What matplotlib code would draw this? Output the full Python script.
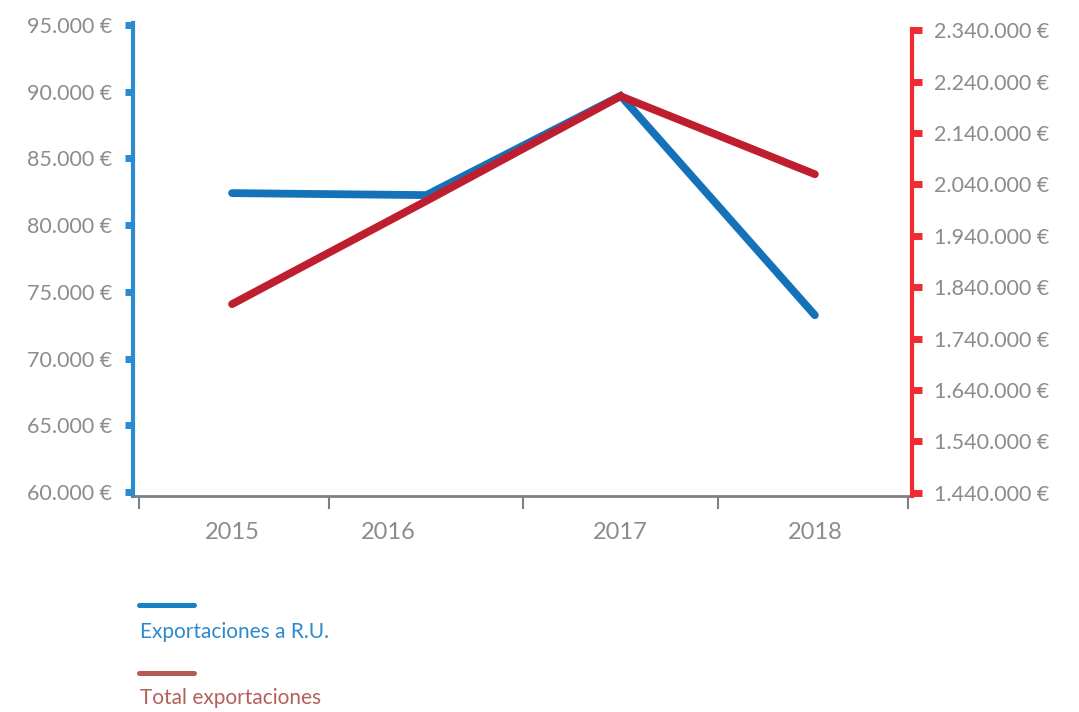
import matplotlib.pyplot as plt
from matplotlib.lines import Line2D
from matplotlib.ticker import FuncFormatter, FixedLocator
import matplotlib.transforms as mtransforms

years = ["2015", "2016", "2017", "2018"]
exports_uk = [82400, 82250, 89700, 73250]
exports_total = [1807000, 2008000, 2212000, 2060000]
left_ticks = [60000, 65000, 70000, 75000, 80000, 85000, 90000, 95000]
right_ticks = [1440000, 1540000, 1640000, 1740000, 1840000,
               1940000, 2040000, 2140000, 2240000, 2340000]

plt.rcParams["font.family"] = ["Lato", "DejaVu Sans"]

BLUE_LINE = "#1472b9"
BLUE_AXIS = "#2a8bd0"
RED_LINE = "#be1e2d"
RED_AXIS = "#ee2a33"
GRAY = "#7b8086"
LABEL = "#8c8c8c"


def euro(v, pos=None):
    return f"{int(v):,}".replace(",", ".") + " €"


fig = plt.figure(figsize=(10.79, 7.12), dpi=100)
ax = fig.add_axes([133 / 1079, 1 - 496 / 712, 779 / 1079, 473 / 712])
ax2 = ax.twinx()

x = list(range(len(years)))
ax.plot(x, exports_uk, color=BLUE_LINE, lw=5.6, solid_capstyle="round",
        solid_joinstyle="miter", zorder=3)
ax2.plot(x, exports_total, color=RED_LINE, lw=5.6, solid_capstyle="round",
         solid_joinstyle="miter", zorder=3)

ax.set_xlim(-0.51, 3.5)
ax.set_ylim(59700, 95150)
ax2.set_ylim(1433200, 2354600)

for a in (ax, ax2):
    a.spines["top"].set_visible(False)
    a.patch.set_visible(False)

# left axis
ax.spines["left"].set_color(BLUE_AXIS)
ax.spines["left"].set_linewidth(3)
ax.spines["left"].set_bounds(59700, 95150)
ax.spines["right"].set_visible(False)
ax.yaxis.set_major_locator(FixedLocator(left_ticks))
ax.yaxis.set_major_formatter(FuncFormatter(euro))
ax.tick_params(axis="y", colors=BLUE_AXIS, length=6, width=5, direction="out",
               labelcolor=LABEL, labelsize=15.5, pad=9)

# right axis
ax2.spines["left"].set_visible(False)
ax2.spines["bottom"].set_visible(False)
ax2.spines["right"].set_color(RED_AXIS)
ax2.spines["right"].set_linewidth(3)
ax2.spines["right"].set_bounds(1433200, 2343000)
ax2.yaxis.set_major_locator(FixedLocator(right_ticks))
ax2.yaxis.set_major_formatter(FuncFormatter(euro))
ax2.tick_params(axis="y", colors=RED_AXIS, length=7, width=5, direction="out",
                labelcolor=LABEL, labelsize=15.5, pad=9)

# x axis
ax.spines["bottom"].set_color(GRAY)
ax.spines["bottom"].set_linewidth(2)
ax.set_xticks(x)
ax.set_xticklabels(years)
ax.set_xticks([-0.48, 0.5, 1.5, 2.5, 3.48], minor=True)
ax.tick_params(axis="x", which="major", length=0, labelcolor=LABEL,
               labelsize=17, pad=19)
ax.tick_params(axis="x", which="minor", length=9, width=1.5, color=GRAY)

# 2016 label sits left of its point in the original
lbl = ax.get_xticklabels()[1]
lbl.set_transform(lbl.get_transform() +
                  mtransforms.ScaledTranslation(-0.38, 0, fig.dpi_scale_trans))

# legend
legend_items = [("Exportaciones a R.U.", "#1a80c4", "#2a8acb", 605, 632),
                ("Total exportaciones", "#b55a55", "#b5605a", 673, 698)]
for name, lc, tc, ly, ty in legend_items:
    fig.add_artist(Line2D([139 / 1079, 194 / 1079], [1 - ly / 712, 1 - ly / 712],
                          color=lc, lw=3.6, solid_capstyle="round"))
    fig.text(140 / 1079, 1 - ty / 712, name, color=tc, fontsize=15,
             va="center", ha="left")

fig.savefig("out.png", dpi=100)
